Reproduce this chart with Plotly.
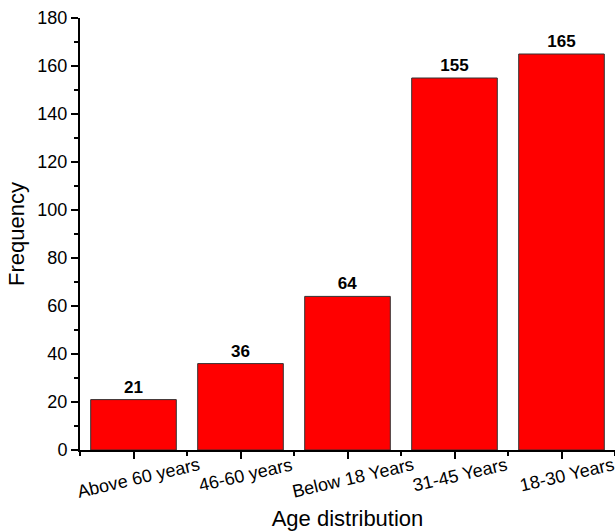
import plotly.graph_objects as go

categories = ["Above 60 years", "46-60 years", "Below 18 Years", "31-45 Years", "18-30 Years"]
frequency = [21, 36, 64, 155, 165]
y_ticks = [0, 20, 40, 60, 80, 100, 120, 140, 160, 180]

xs = list(range(len(categories)))

fig = go.Figure()
fig.add_trace(go.Bar(
    x=xs, y=frequency, width=0.8,
    marker=dict(color="#ff0000", line=dict(color="#333333", width=1)),
    text=[str(v) for v in frequency], textposition="outside",
    textfont=dict(family="Liberation Sans", size=17, color="black", weight="bold"),
    cliponaxis=False,
))

for i, c in enumerate(categories):
    fig.add_annotation(x=i, y=0, xref="x", yref="y", text=c, showarrow=False,
                       textangle=-13, yanchor="top", xshift=5, yshift=-2,
                       font=dict(family="Liberation Sans", size=18, color="black"))

fig.update_layout(
    width=615, height=531,
    margin=dict(l=80, r=0, t=18, b=81),
    paper_bgcolor="white", plot_bgcolor="white",
    showlegend=False,
    font=dict(family="Liberation Sans", color="black"),
    xaxis=dict(range=[-0.5, 4.5], tickvals=xs, ticktext=["" for _ in xs],
               showgrid=False, zeroline=False, showline=True, linecolor="black", linewidth=2,
               ticks="outside", ticklen=7, tickwidth=2, tickcolor="black",
               minor=dict(tick0=-0.5, dtick=1, ticks="outside", ticklen=4, tickwidth=2, tickcolor="black"),
               title=dict(text="Age distribution", font=dict(size=22), standoff=50)),
    yaxis=dict(range=[0, 180], tickvals=y_ticks, showgrid=False, zeroline=False,
               showline=True, linecolor="black", linewidth=2,
               ticks="outside", ticklen=7, tickwidth=2, tickcolor="black",
               tickfont=dict(size=18),
               minor=dict(dtick=10, ticks="outside", ticklen=4, tickwidth=2, tickcolor="black"),
               title=dict(text="Frequency", font=dict(size=22), standoff=7)),
)

fig.write_html("out.html", config={"displayModeBar": False},
               post_script="document.body.style.margin='0';")
